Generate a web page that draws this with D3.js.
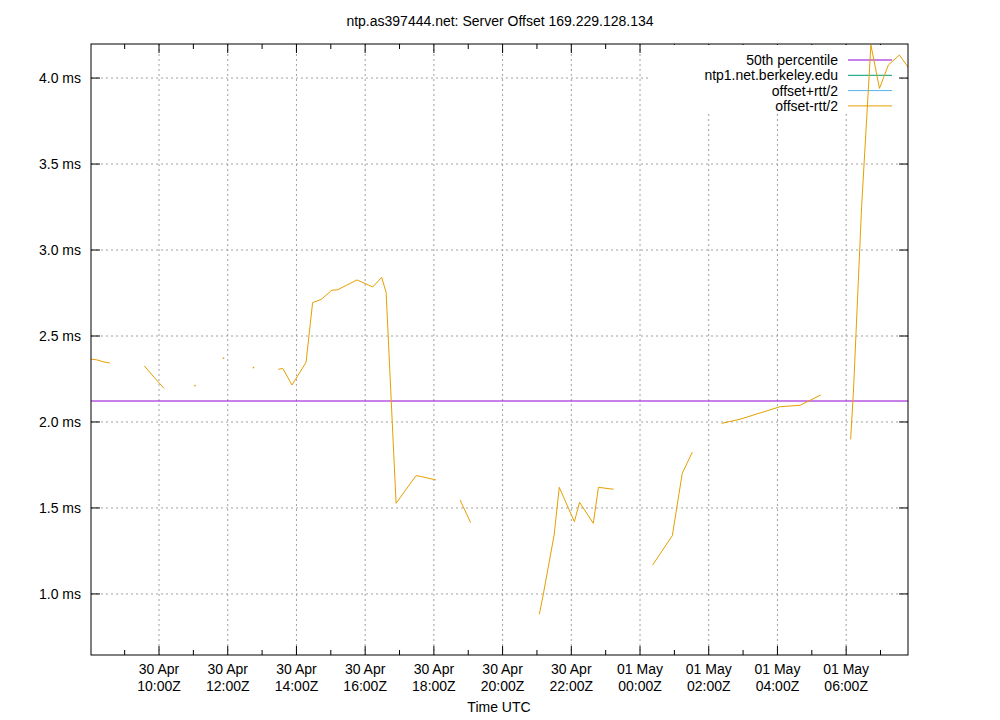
<!DOCTYPE html>
<html><head><meta charset="utf-8">
<script src="https://cdn.jsdelivr.net/npm/d3@7"></script>
<style>body{margin:0;background:#fff}svg{font-family:"Liberation Sans",Arial,sans-serif}</style>
</head><body><svg id="c" width="1000" height="720"></svg>
<script>
// time in hours since 30 Apr 00:00Z; null = gap
const times = [8.02,8.22,8.37,8.57,null,9.57,10.0,10.14,null,11.04,null,11.87,null,12.74,null,
 13.47,13.60,13.87,14.28,14.47,14.72,15.03,15.20,15.76,16.22,16.48,16.61,16.90,17.48,17.60,18.06,null,
 18.76,19.07,null,21.07,21.19,21.50,21.65,22.09,22.24,22.64,22.79,23.23,null,
 24.37,24.94,25.23,25.52,null,26.38,26.91,28.08,28.66,29.26,null,
 30.13,30.21,30.45,30.72,30.97,31.23,31.55,31.86];
const offsetMs = [2.366,2.36,2.35,2.343,null,2.326,2.228,2.196,null,2.213,null,2.372,null,2.318,null,
 2.306,2.312,2.215,2.347,2.694,2.713,2.766,2.769,2.826,2.785,2.841,2.754,1.527,1.688,1.684,1.663,null,
 1.547,1.415,null,0.882,1.004,1.343,1.620,1.420,1.533,1.411,1.620,1.609,null,
 1.169,1.339,1.702,1.824,null,1.992,2.016,2.089,2.097,2.157,null,
 1.899,2.167,3.252,4.192,3.940,4.076,4.134,4.047];
const median = 2.122;
const yTicks = [1.0,1.5,2.0,2.5,3.0,3.5,4.0];
const xTicks = [10,12,14,16,18,20,22,24,26,28,30];
const xTickLabels = [["30 Apr","10:00Z"],["30 Apr","12:00Z"],["30 Apr","14:00Z"],["30 Apr","16:00Z"],["30 Apr","18:00Z"],["30 Apr","20:00Z"],["30 Apr","22:00Z"],["01 May","00:00Z"],["01 May","02:00Z"],["01 May","04:00Z"],["01 May","06:00Z"]];
const legendNames = ["50th percentile","ntp1.net.berkeley.edu","offset+rtt/2","offset-rtt/2"];
const legendColors = ["#9400d3","#009e73","#56b4e9","#e69f00"];

const L=91,R=908,T=44,B=655;
const svg=d3.select("#c");
const x=d3.scaleLinear().domain([8.02,31.80]).range([L,R]);
const y=d3.scaleLinear().domain([0.645,4.198]).range([B,T]);
const g=svg.append("g");
// grid
yTicks.forEach(v=>g.append("line").attr("x1",L).attr("x2",R).attr("y1",y(v)).attr("y2",y(v)).attr("stroke","#a0a0a0").attr("stroke-dasharray","2,3"));
xTicks.forEach(v=>g.append("line").attr("x1",x(v)).attr("x2",x(v)).attr("y1",T).attr("y2",B).attr("stroke","#a0a0a0").attr("stroke-dasharray","2,3"));
// ticks
yTicks.forEach(v=>{
  g.append("line").attr("x1",L).attr("x2",L+9).attr("y1",y(v)).attr("y2",y(v)).attr("stroke","#000");
  g.append("line").attr("x1",R).attr("x2",R-9).attr("y1",y(v)).attr("y2",y(v)).attr("stroke","#000");
  g.append("text").attr("x",L-10).attr("y",y(v)+5).attr("text-anchor","end").attr("font-size",14).text(v.toFixed(1)+" ms");
});
d3.range(9,32).forEach(h=>{
  const len = h%2===0?9:5;
  g.append("line").attr("x1",x(h)).attr("x2",x(h)).attr("y1",B).attr("y2",B-len).attr("stroke","#000");
  g.append("line").attr("x1",x(h)).attr("x2",x(h)).attr("y1",T).attr("y2",T+len).attr("stroke","#000");
});
xTicks.forEach((v,i)=>{
  const t=g.append("text").attr("text-anchor","middle").attr("font-size",14);
  t.append("tspan").attr("x",x(v)).attr("y",674).text(xTickLabels[i][0]);
  t.append("tspan").attr("x",x(v)).attr("y",691).text(xTickLabels[i][1]);
});
// legend box
g.append("rect").attr("x",648).attr("y",T+1).attr("width",250).attr("height",67).attr("fill","#fff");
legendNames.forEach((n,i)=>{
  const yy=60+i*15.3;
  g.append("text").attr("x",838).attr("y",yy+5).attr("text-anchor","end").attr("font-size",14).text(n);
  g.append("line").attr("x1",848).attr("x2",892).attr("y1",yy).attr("y2",yy).attr("stroke",legendColors[i]);
});
// median
g.append("line").attr("x1",L).attr("x2",R).attr("y1",y(median)).attr("y2",y(median)).attr("stroke",legendColors[0]).attr("stroke-width",1);
// data
const pts=times.map((t,i)=>[t,offsetMs[i]]);
svg.append("clipPath").attr("id","cp").append("rect").attr("x",L).attr("y",T).attr("width",R-L).attr("height",B-T);
const line=d3.line().defined(d=>d[0]!=null&&d[1]!=null).x(d=>x(d[0])).y(d=>y(d[1]));
g.append("path").attr("d",line(pts)).attr("fill","none").attr("stroke",legendColors[3]).attr("stroke-width",1).attr("clip-path","url(#cp)");
// isolated points
pts.forEach((d,i)=>{
  if(d[0]==null) return;
  const p=pts[i-1], n=pts[i+1];
  if((!p||p[0]==null)&&(!n||n[0]==null))
    g.append("rect").attr("x",x(d[0])-0.5).attr("y",y(d[1])-0.5).attr("width",1.5).attr("height",1.5).attr("fill",legendColors[3]);
});
// border
g.append("rect").attr("x",L).attr("y",T).attr("width",R-L).attr("height",B-T).attr("fill","none").attr("stroke","#000");
svg.append("text").attr("x",500).attr("y",26).attr("text-anchor","middle").attr("font-size",14).text("ntp.as397444.net: Server Offset 169.229.128.134");
svg.append("text").attr("x",499).attr("y",712).attr("text-anchor","middle").attr("font-size",14).text("Time UTC");
</script></body></html>
